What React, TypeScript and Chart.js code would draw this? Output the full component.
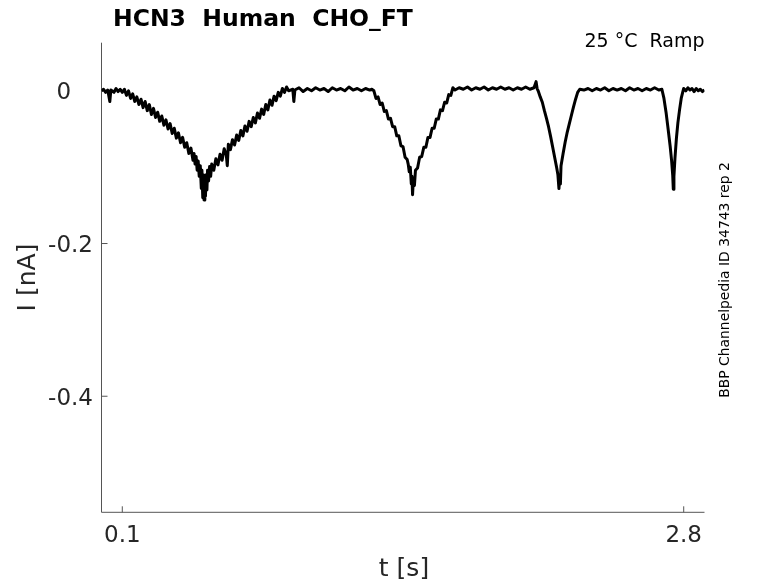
import { useEffect, useRef } from 'react'
import { Chart, registerables } from 'chart.js'

Chart.register(...registerables)

// time [s] and current [nA] (upper/lower edge of the noisy band)
const times = [
  0.0, 0.01, 0.02, 0.03, 0.04, 0.045, 0.06, 0.07, 0.08, 0.09, 0.1,
  0.11, 0.12, 0.13, 0.14, 0.15, 0.16, 0.17, 0.18, 0.19, 0.2, 0.21, 0.22, 0.23, 0.24, 0.25, 0.26,
  0.27, 0.28, 0.29, 0.3, 0.31, 0.32, 0.33, 0.34, 0.35, 0.36, 0.37, 0.38, 0.39, 0.4, 0.41, 0.42, 0.43,
  0.44, 0.445, 0.45, 0.455, 0.46, 0.465, 0.47, 0.475, 0.48, 0.483, 0.487, 0.49, 0.493, 0.497, 0.5,
  0.503, 0.507, 0.51, 0.515, 0.52, 0.525,
  0.53, 0.54, 0.55, 0.56, 0.57, 0.58, 0.59, 0.6, 0.605, 0.61, 0.62, 0.63, 0.64, 0.65, 0.66, 0.67,
  0.68, 0.69, 0.7, 0.71, 0.72, 0.73, 0.74, 0.75, 0.76, 0.77, 0.78, 0.79, 0.8, 0.81, 0.82, 0.83,
  0.84, 0.85, 0.86, 0.87, 0.88, 0.89, 0.9,
  0.92, 0.925, 0.93, 0.95, 0.97, 0.99, 1.01, 1.03, 1.05, 1.07, 1.09, 1.11, 1.13, 1.15, 1.17, 1.19,
  1.21, 1.23, 1.25, 1.27, 1.29,
  1.3, 1.31, 1.32, 1.33, 1.34, 1.35, 1.36, 1.37, 1.38, 1.39, 1.4, 1.41, 1.42, 1.43, 1.44, 1.45, 1.46, 1.47,
  1.475, 1.48, 1.485, 1.49, 1.493, 1.496, 1.5, 1.505,
  1.51, 1.52, 1.53, 1.54, 1.55, 1.56, 1.57, 1.58, 1.59, 1.6, 1.61, 1.62, 1.63, 1.64, 1.65, 1.66,
  1.67, 1.68, 1.69, 1.7,
  1.72, 1.74, 1.76, 1.78, 1.8, 1.82, 1.84, 1.86, 1.88, 1.9, 1.92, 1.94, 1.96, 1.98, 2.0, 2.02,
  2.04, 2.06, 2.08, 2.09, 2.095,
  2.1, 2.11, 2.12, 2.13, 2.14, 2.15, 2.16, 2.17, 2.18, 2.19, 2.195, 2.2, 2.203, 2.207, 2.21, 2.22,
  2.23, 2.24, 2.25, 2.26, 2.27, 2.28, 2.29, 2.3,
  2.32, 2.34, 2.36, 2.38, 2.4, 2.42, 2.44, 2.46, 2.48, 2.5, 2.52, 2.54, 2.56, 2.58, 2.6, 2.62,
  2.64, 2.66, 2.68, 2.695,
  2.705, 2.715, 2.725, 2.735, 2.742, 2.747, 2.75, 2.753, 2.758, 2.765, 2.772, 2.78, 2.788, 2.795, 2.8,
  2.81, 2.82, 2.83, 2.84, 2.85, 2.86, 2.87, 2.88, 2.89, 2.9,
]

const current = [
  0.0, 0.002, -0.002, 0.001, -0.014, 0.001, -0.002, 0.003, -0.001, 0.002, -0.002,
  0.002, -0.006, 0.0, -0.01, -0.004, -0.014, -0.008, -0.018, -0.011, -0.022, -0.014, -0.026, -0.018, -0.031, -0.023, -0.035,
  -0.028, -0.04, -0.033, -0.045, -0.038, -0.05, -0.043, -0.056, -0.049, -0.062, -0.055, -0.068, -0.061, -0.074, -0.068, -0.082, -0.075,
  -0.091, -0.082, -0.096, -0.086, -0.104, -0.092, -0.112, -0.098, -0.128, -0.104, -0.14, -0.11, -0.143, -0.116, -0.138,
  -0.11, -0.13, -0.104, -0.118, -0.099, -0.112,
  -0.096, -0.104, -0.089, -0.097, -0.083, -0.091, -0.076, -0.084, -0.098, -0.07, -0.077, -0.064, -0.071, -0.058, -0.065, -0.052,
  -0.059, -0.046, -0.053, -0.04, -0.047, -0.035, -0.042, -0.029, -0.036, -0.024, -0.031, -0.018, -0.025, -0.012, -0.019, -0.007,
  -0.013, -0.002, -0.007, 0.003, -0.002, 0.005, 0.0,
  0.002, -0.014, 0.001, 0.004, -0.001, 0.003, 0.0, 0.004, 0.001, 0.003, -0.001, 0.004, 0.001, 0.003, 0.0, 0.005,
  0.001, 0.003, 0.0, 0.003, 0.001,
  0.002, 0.0, -0.01, -0.008, -0.018, -0.016, -0.027, -0.026, -0.037, -0.036, -0.047, -0.047, -0.059, -0.059, -0.072, -0.073, -0.087, -0.09,
  -0.096, -0.106, -0.1, -0.122, -0.112, -0.136, -0.115, -0.124,
  -0.104, -0.101, -0.087, -0.086, -0.074, -0.074, -0.061, -0.061, -0.049, -0.049, -0.037, -0.037, -0.025, -0.026, -0.015, -0.016,
  -0.005, -0.006, 0.004, 0.001,
  0.004, 0.002, 0.005, 0.001, 0.004, 0.002, 0.005, 0.001, 0.004, 0.002, 0.005, 0.002, 0.004, 0.001, 0.004, 0.002,
  0.005, 0.002, 0.004, 0.012, 0.003,
  0.0, -0.008, -0.015, -0.026, -0.036, -0.047, -0.06, -0.074, -0.088, -0.102, -0.11, -0.128, -0.114, -0.122, -0.098, -0.082,
  -0.067, -0.054, -0.043, -0.032, -0.021, -0.011, -0.002, 0.002,
  0.001, 0.003, 0.0, 0.003, 0.001, 0.004, 0.0, 0.003, 0.001, 0.003, 0.0, 0.004, 0.001, 0.003, 0.0, 0.003,
  0.001, 0.004, 0.001, 0.002,
  -0.01, -0.028, -0.05, -0.073, -0.092, -0.11, -0.129, -0.112, -0.088, -0.062, -0.042, -0.025, -0.01, -0.002, 0.003,
  0.0, 0.004, 0.001, 0.003, -0.001, 0.003, 0.0, 0.002, -0.001, 0.001,
]

const xTicks = [0.1, 2.8]
const xTickLabels = ['0.1', '2.8']
const yTicks = [0, -0.2, -0.4]
const yTickLabels = ['0   ', '-0.2', '-0.4']

const FONT = "'DejaVu Sans', sans-serif"
const AXIS_COLOR = '#555555'
const TEXT_COLOR = '#262626'

const matlabAxes = {
  id: 'matlabAxes',
  beforeDatasetsDraw(chart: any) {
    const { ctx, chartArea } = chart
    const { left, right, top, bottom } = chartArea
    ctx.save()
    ctx.strokeStyle = AXIS_COLOR
    ctx.lineWidth = 1
    ctx.beginPath()
    ctx.moveTo(left, top)
    ctx.lineTo(left, bottom)
    ctx.lineTo(right, bottom)
    for (const v of xTicks) {
      const px = chart.scales.x.getPixelForValue(v)
      ctx.moveTo(px, bottom)
      ctx.lineTo(px, bottom - 6)
    }
    for (const v of yTicks) {
      const py = chart.scales.y.getPixelForValue(v)
      ctx.moveTo(left, py)
      ctx.lineTo(left + 6, py)
    }
    ctx.stroke()
    ctx.restore()
  },
  afterDraw(chart: any) {
    const { ctx, chartArea } = chart
    const { left, right, top, bottom } = chartArea
    ctx.save()
    ctx.fillStyle = TEXT_COLOR
    ctx.font = `23px ${FONT}`
    ctx.textBaseline = 'alphabetic'

    ctx.textAlign = 'center'
    xTicks.forEach((v, i) => {
      const px = chart.scales.x.getPixelForValue(v)
      ctx.fillText(xTickLabels[i], px, bottom + 29.5)
    })

    ctx.textAlign = 'right'
    yTicks.forEach((v, i) => {
      const py = chart.scales.y.getPixelForValue(v)
      ctx.fillText(yTickLabels[i], left - 8.5, py + 8.4)
    })

    ctx.font = `25px ${FONT}`
    ctx.textAlign = 'center'
    ctx.fillText('t [s]', (left + right) / 2 + 1, 576)

    ctx.save()
    ctx.translate(35, (top + bottom) / 2)
    ctx.rotate(-Math.PI / 2)
    ctx.fillText('I [nA]', 0, 0)
    ctx.restore()

    ctx.fillStyle = '#000000'
    ctx.font = `bold 23.5px ${FONT}`
    ctx.textAlign = 'left'
    ctx.fillText('HCN3  Human  CHO_FT', 113, 26)

    ctx.font = `19px ${FONT}`
    ctx.textAlign = 'right'
    ctx.fillText('25 °C  Ramp', right, 47)

    ctx.save()
    ctx.font = `13.9px ${FONT}`
    ctx.textAlign = 'center'
    ctx.translate(728.5, 280)
    ctx.rotate(-Math.PI / 2)
    ctx.fillText('BBP Channelpedia ID 34743 rep 2', 0, 0)
    ctx.restore()

    ctx.restore()
  },
}

export default function App() {
  const canvasRef = useRef<HTMLCanvasElement>(null)

  useEffect(() => {
    if (!canvasRef.current) return

    const chart = new Chart(canvasRef.current, {
      type: 'line',
      data: {
        datasets: [{
          data: times.map((t, i) => ({ x: t, y: current[i] })),
          borderColor: '#000000',
          borderWidth: 3,
          borderJoinStyle: 'round',
          pointRadius: 0,
          tension: 0,
          fill: false,
        }],
      },
      options: {
        responsive: false,
        animation: false,
        devicePixelRatio: 1,
        layout: {
          padding: { left: 101.5, top: 42.7, right: 73.5, bottom: 70.7 },
        },
        plugins: {
          legend: { display: false },
          tooltip: { enabled: false },
        },
        scales: {
          x: { type: 'linear', min: 0, max: 2.9, display: false },
          y: { type: 'linear', min: -0.552, max: 0.063, display: false },
        },
      },
      plugins: [matlabAxes],
    })

    return () => chart.destroy()
  }, [])

  return (
    <div style={{ position: 'absolute', left: 0, top: 0, width: 778, height: 583, background: '#ffffff' }}>
      <canvas ref={canvasRef} width={778} height={583}></canvas>
    </div>
  )
}
